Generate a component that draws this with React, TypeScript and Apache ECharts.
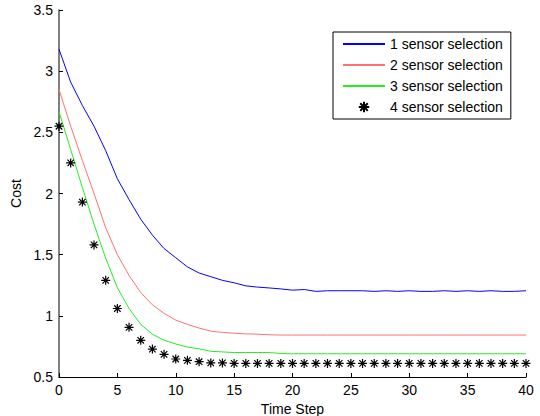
import React, { useEffect, useRef } from "react";
import * as echarts from "echarts";

const timeSteps = Array.from({ length: 41 }, (_, i) => i);

const sensor1 = [
  3.18, 2.91, 2.72, 2.55, 2.35, 2.12, 1.95, 1.79, 1.66, 1.55,
  1.475, 1.40, 1.35, 1.32, 1.29, 1.27, 1.245, 1.235, 1.228, 1.22,
  1.21, 1.215, 1.20, 1.205, 1.205, 1.205, 1.205, 1.20, 1.205, 1.20,
  1.205, 1.20, 1.20, 1.205, 1.20, 1.205, 1.20, 1.205, 1.20, 1.20, 1.205,
];
const sensor2 = [
  2.85, 2.55, 2.27, 2.0, 1.72, 1.50, 1.33, 1.19, 1.09, 1.02,
  0.965, 0.93, 0.90, 0.875, 0.865, 0.858, 0.853, 0.85, 0.845, 0.843,
  0.843, 0.843, 0.843, 0.843, 0.843, 0.843, 0.843, 0.843, 0.843, 0.843,
  0.843, 0.843, 0.843, 0.843, 0.843, 0.843, 0.843, 0.843, 0.843, 0.843, 0.843,
];
const sensor3 = [
  2.67, 2.36, 2.05, 1.75, 1.47, 1.23, 1.06, 0.93, 0.85, 0.80,
  0.77, 0.745, 0.73, 0.71, 0.705, 0.70, 0.70, 0.70, 0.70, 0.692,
  0.69, 0.69, 0.69, 0.69, 0.69, 0.69, 0.69, 0.69, 0.69, 0.69,
  0.69, 0.69, 0.69, 0.69, 0.69, 0.69, 0.69, 0.69, 0.69, 0.69, 0.69,
];
const sensor4 = [
  2.55, 2.25, 1.93, 1.58, 1.29, 1.06, 0.906, 0.80, 0.728, 0.685,
  0.647, 0.636, 0.625, 0.615, 0.615, 0.611, 0.611, 0.611, 0.611, 0.611,
  0.611, 0.611, 0.611, 0.611, 0.611, 0.611, 0.611, 0.611, 0.611, 0.611,
  0.611, 0.611, 0.611, 0.611, 0.611, 0.611, 0.611, 0.611, 0.611, 0.611, 0.611,
];

const seriesNames = [
  "1 sensor selection",
  "2 sensor selection",
  "3 sensor selection",
  "4 sensor selection",
];

const FONT = "Liberation Sans, Arial, sans-serif";
const STAR =
  "path://M0,-5L0,5M-5,0L5,0M-3.6,-3.6L3.6,3.6M-3.6,3.6L3.6,-3.6";

export default function App() {
  const ref = useRef<HTMLDivElement>(null);
  useEffect(() => {
    if (!ref.current) return;
    const chart = echarts.init(ref.current, null, { renderer: "svg" });
    const pair = (arr: number[]) => arr.map((v, i) => [timeSteps[i], v]);
    chart.setOption({
      animation: false,
      backgroundColor: "#fff",
      grid: {
        left: 59,
        right: 14,
        top: 10,
        bottom: 39,
        containLabel: false,
        outerBoundsMode: "none",
      },
      legend: {
        orient: "vertical",
        left: 333,
        top: 32,
        padding: [5, 8, 5, 9],
        itemGap: 7,
        itemWidth: 42,
        itemHeight: 13,
        borderColor: "#000",
        borderWidth: 1,
        borderRadius: 0,
        backgroundColor: "#fff",
        textStyle: { fontFamily: FONT, fontSize: 14, color: "#000" },
        data: [
          { name: seriesNames[0], itemStyle: { opacity: 0 } },
          { name: seriesNames[1], itemStyle: { opacity: 0 } },
          { name: seriesNames[2], itemStyle: { opacity: 0 } },
          { name: seriesNames[3] },
        ],
      },
      xAxis: {
        type: "value",
        min: 0,
        max: 40,
        interval: 5,
        name: "Time Step",
        nameLocation: "middle",
        nameGap: 23,
        nameTextStyle: { fontFamily: FONT, fontSize: 14, color: "#000" },
        axisLine: { lineStyle: { color: "#000", width: 1 } },
        axisTick: { inside: true, length: 4, lineStyle: { color: "#000" } },
        axisLabel: { fontFamily: FONT, fontSize: 14, color: "#000", margin: 6 },
        splitLine: { show: false },
      },
      yAxis: {
        type: "value",
        min: 0.5,
        max: 3.5,
        interval: 0.5,
        name: "Cost",
        nameLocation: "middle",
        nameGap: 36,
        nameTextStyle: { fontFamily: FONT, fontSize: 14, color: "#000" },
        axisLine: { show: true, lineStyle: { color: "#555", width: 1.5 } },
        axisTick: { show: true, inside: true, length: 4, lineStyle: { color: "#000" } },
        axisLabel: { fontFamily: FONT, fontSize: 14, color: "#000", margin: 6 },
        splitLine: { show: false },
      },
      series: [
        {
          name: seriesNames[0],
          type: "line",
          data: pair(sensor1),
          symbol: "none",
          lineStyle: { color: "#0000ff", width: 1 },
          itemStyle: { color: "#0000ff" },
        },
        {
          name: seriesNames[1],
          type: "line",
          data: pair(sensor2),
          symbol: "none",
          lineStyle: { color: "#ff7070", width: 1 },
          itemStyle: { color: "#ff7070" },
        },
        {
          name: seriesNames[2],
          type: "line",
          data: pair(sensor3),
          symbol: "none",
          lineStyle: { color: "#22ee22", width: 1 },
          itemStyle: { color: "#22ee22" },
        },
        {
          name: seriesNames[3],
          type: "line",
          data: pair(sensor4),
          symbol: STAR,
          symbolSize: 9,
          showSymbol: true,
          lineStyle: { width: 0, opacity: 0 },
          itemStyle: { color: "rgba(0,0,0,0)", borderColor: "#000", borderWidth: 1.2 },
        },
      ],
    });
    return () => chart.dispose();
  }, []);
  return (
    <div
      ref={ref}
      style={{ position: "fixed", left: 0, top: 0, width: 540, height: 416 }}
    />
  );
}
